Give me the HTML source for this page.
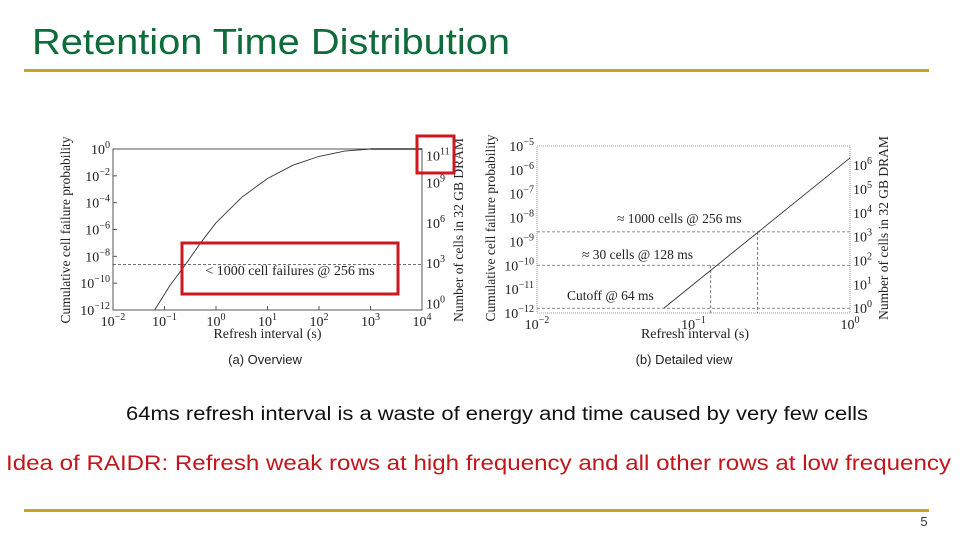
<!DOCTYPE html>
<html><head><meta charset="utf-8"><style>
html,body{margin:0;padding:0;background:#fff;}
svg{display:block;}
.ser{font-family:"Liberation Serif",serif;fill:#222;}
</style></head><body>
<svg id="s" width="960" height="540" viewBox="0 0 960 540" xmlns="http://www.w3.org/2000/svg">
<text x="32" y="54" font-family="Liberation Sans,sans-serif" font-size="36" fill="#0E6B3A" textLength="478" lengthAdjust="spacingAndGlyphs">Retention Time Distribution</text>
<rect x="24" y="69" width="905" height="3" fill="#C9A22E"/>
<g id="ca"></g>
<g id="cb"></g>
<text x="265" y="364" font-family="Liberation Sans,sans-serif" font-size="13" fill="#222" text-anchor="middle">(a) Overview</text>
<text x="684" y="364" font-family="Liberation Sans,sans-serif" font-size="13" fill="#222" text-anchor="middle">(b) Detailed view</text>
<text x="126" y="420" font-family="Liberation Sans,sans-serif" font-size="19" fill="#111" textLength="742" lengthAdjust="spacingAndGlyphs">64ms refresh interval is a waste of energy and time caused by very few cells</text>
<text x="6" y="470" font-family="Liberation Sans,sans-serif" font-size="21" fill="#C0171D" textLength="945" lengthAdjust="spacingAndGlyphs">Idea of RAIDR: Refresh weak rows at high frequency and all other rows at low frequency</text>
<rect x="24" y="509" width="905" height="3" fill="#C9A22E"/>
<text x="924" y="526" font-family="Liberation Sans,sans-serif" font-size="13" fill="#333" text-anchor="middle">5</text>
</svg>
<script>
// Chart A data (log10 values)
const aCurveLogX = [-1.19, -0.9, -0.59, -0.3, 0, 0.5, 1, 1.5, 2, 2.5, 3, 4];
const aCurveLogY = [-12, -10.2, -8.6, -7, -5.5, -3.6, -2.2, -1.2, -0.55, -0.15, 0, 0];
const aXTicks = [-2, -1, 0, 1, 2, 3, 4];
const aYTicks = [0, -2, -4, -6, -8, -10, -12];
const aRightTicks = [0, 3, 6, 9, 11];
const aThreshold = -8.6;
// Chart B data
const bLineLogX = [-1.19, 0];
const bLineLogY = [-11.8, -5.5];
const bXTicks = [-2, -1, 0];
const bYTicks = [-5, -6, -7, -8, -9, -10, -11, -12];
const bRightTicks = [0, 1, 2, 3, 4, 5, 6];
const bMarkLogX = [-0.89, -0.59];
const bMarkLogY = [-10, -8.6];
const bCutoff = -11.8;

const NS = "http://www.w3.org/2000/svg";
function mk(p, tag, at, txt) {
  const e = document.createElementNS(NS, tag);
  for (const k in at) e.setAttribute(k, at[k]);
  if (txt !== undefined) e.textContent = txt;
  p.appendChild(e);
  return e;
}
function pow(p, x, y, exp, anchor, size) {
  const t = mk(p, "text", {x: x, y: y, "text-anchor": anchor, "font-size": size, class: "ser"});
  const a = document.createElementNS(NS, "tspan"); a.textContent = "10"; t.appendChild(a);
  const b = document.createElementNS(NS, "tspan"); b.setAttribute("dy", -6); b.setAttribute("font-size", size * 0.72);
  b.textContent = exp < 0 ? "\u2212" + (-exp) : String(exp); t.appendChild(b);
  return t;
}

// ---- Chart A ----
const ga = document.getElementById("ca");
const aL = 113, aR = 422, aT = 149, aB = 310;
const ax = v => aL + (v + 2) / 6 * (aR - aL);
const ay = v => aT + (-v) / 12 * (aB - aT);
const aRy = c => ay(c - 11.5);
const fa = mk(ga, "rect", {x: aL, y: aT, width: aR - aL, height: aB - aT, fill: "#fff", stroke: "#555", "stroke-width": 1});


aXTicks.forEach(v => {
  const t = pow(ga, ax(v), aB + 16, v, "middle", 14);
  
  
  mk(ga, "line", {x1: ax(v), x2: ax(v), y1: aB, y2: aB - 4, stroke: "#555"});
});
aYTicks.forEach(v => {
  const t = pow(ga, aL - 3, ay(v) + 5, v, "end", 14);
  
  
  mk(ga, "line", {x1: aL, x2: aL + 4, y1: ay(v), y2: ay(v), stroke: "#555"});
});
aRightTicks.forEach(v => {
  const t = pow(ga, aR + 4, aRy(v) + 5, v, "start", 14);
  
  
});
const thA = mk(ga, "line", {x1: aL, x2: aR, y1: ay(aThreshold), y2: ay(aThreshold), stroke: "#444", "stroke-dasharray": "3,2", "stroke-width": 0.8});


const topA = mk(ga, "line", {x1: ax(3), x2: aR, y1: ay(0), y2: ay(0), stroke: "#333", "stroke-width": 1.5});


const cA = mk(ga, "polyline", {points: aCurveLogX.map((v, i) => ax(v) + "," + ay(aCurveLogY[i])).join(" "), fill: "none", stroke: "#333", "stroke-width": 0.9});


const xla = mk(ga, "text", {x: (aL + aR) / 2, y: 338, "text-anchor": "middle", "font-size": 14, class: "ser"}, "Refresh interval (s)");


const yla = mk(ga, "text", {x: 0, y: 0, transform: "translate(70,230) rotate(-90)", "text-anchor": "middle", "font-size": 13.5, class: "ser"}, "Cumulative cell failure probability");


const yra = mk(ga, "text", {x: 0, y: 0, transform: "translate(463,230) rotate(-90)", "text-anchor": "middle", "font-size": 13.5, class: "ser"}, "Number of cells in 32 GB DRAM");


const boxA = mk(ga, "rect", {x: 182, y: 243, width: 216, height: 51, fill: "none", stroke: "#D0161E", "stroke-width": 3});


const annA = mk(ga, "text", {x: 290, y: 275, "text-anchor": "middle", "font-size": 14, class: "ser"}, "< 1000 cell failures @ 256 ms");


const boxB = mk(ga, "rect", {x: 417, y: 136, width: 37, height: 37, fill: "none", stroke: "#D0161E", "stroke-width": 3});



// ---- Chart B ----
const gb = document.getElementById("cb");
const bL = 537, bR = 850, bT = 146, bB = 313;
const bx = v => bL + (v + 2) / 2 * (bR - bL);
const by = v => bT + (-5 - v) / 7 * (bB - bT);
const bRy = c => by(c - 11.8);
const fb = mk(gb, "rect", {x: bL, y: bT, width: bR - bL, height: bB - bT, fill: "#fff", stroke: "#999", "stroke-width": 1, "stroke-dasharray": "1,1"});


bXTicks.forEach(v => {
  const t = pow(gb, bx(v), bB + 16, v, "middle", 14);
  
  
});
bYTicks.forEach(v => {
  const t = pow(gb, bL - 3, by(v) + 5, v, "end", 14);
  
  
});
bRightTicks.forEach(v => {
  const t = pow(gb, bR + 3, bRy(v) + 5, v, "start", 14);
  
  
});
[bCutoff].concat(bMarkLogY).forEach(v => {
  const l = mk(gb, "line", {x1: bL, x2: bR, y1: by(v), y2: by(v), stroke: "#666", "stroke-dasharray": "3,2", "stroke-width": 0.8});
  
  
});
bMarkLogX.forEach((v, i) => {
  const l = mk(gb, "line", {x1: bx(v), x2: bx(v), y1: by(bMarkLogY[i]), y2: bB, stroke: "#555", "stroke-dasharray": "3,2", "stroke-width": 0.8});
  
  
});
const lB = mk(gb, "polyline", {points: bLineLogX.map((v, i) => bx(v) + "," + by(bLineLogY[i])).join(" "), fill: "none", stroke: "#333", "stroke-width": 0.9});


const anns = [["\u2248 1000 cells @ 256 ms", 617, 223], ["\u2248 30 cells @ 128 ms", 582, 259], ["Cutoff @ 64 ms", 567, 300]];
anns.forEach(a => {
  const t = mk(gb, "text", {x: a[1], y: a[2], "font-size": 13.5, class: "ser"}, a[0]);
  
  
});
const xlb = mk(gb, "text", {x: 695, y: 338, "text-anchor": "middle", "font-size": 14, class: "ser"}, "Refresh interval (s)");


const ylb = mk(gb, "text", {x: 0, y: 0, transform: "translate(495,228) rotate(-90)", "text-anchor": "middle", "font-size": 13.5, class: "ser"}, "Cumulative cell failure probability");


const yrb = mk(gb, "text", {x: 0, y: 0, transform: "translate(888,228) rotate(-90)", "text-anchor": "middle", "font-size": 13.5, class: "ser"}, "Number of cells in 32 GB DRAM");


</script>
</body></html>
